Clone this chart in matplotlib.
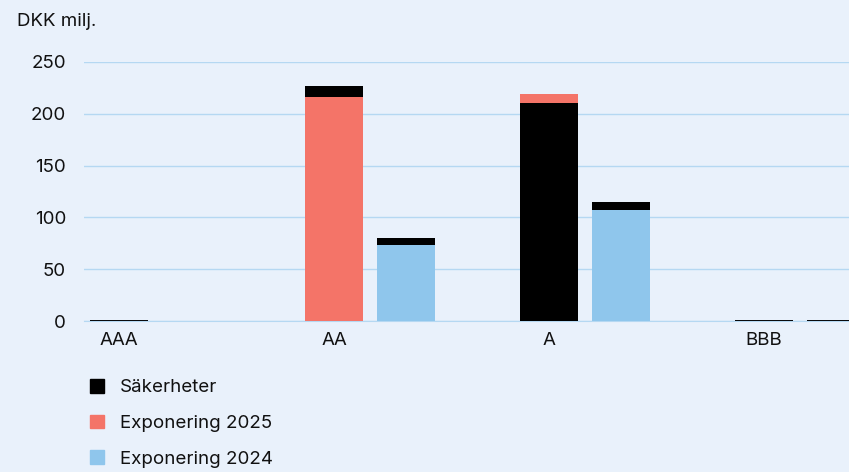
import numpy as np
import matplotlib.pyplot as plt
from matplotlib.patches import Patch

plt.rcParams['font.family'] = ['Inter', 'DejaVu Sans']

# data
ratings = ["AAA", "AA", "A", "BBB"]
exp_2025 = [0.4, 216, 219, 0.4]
sak_2025 = [0.6, 227, 210, 0.6]
exp_2024 = [0.0, 73, 107, 0.4]
sak_2024 = [0.0, 80, 115, 0.8]

bg = "#e9f1fb"
c_sak = "#000000"
c_2025 = "#f47468"
c_2024 = "#8fc6ec"
c_grid = "#b5d8f2"
fs = 13.5

fig = plt.figure(figsize=(8.49, 4.72), dpi=100, facecolor=bg)
ax = fig.add_axes([84 / 849, 1 - 321 / 472, 1 - 84 / 849, 259 / 472])
ax.set_facecolor(bg)

x = np.arange(len(ratings))
w = 0.27
off = 0.335


def draw_pair(pos, exp, sak, col):
    # the larger value goes behind, the smaller in front
    for xi, e, s in zip(pos, exp, sak):
        if e <= 0 and s <= 0:
            continue
        if s >= e:
            ax.bar(xi, s, w, color=c_sak, zorder=2)
            ax.bar(xi, e, w, color=col, zorder=3)
        else:
            ax.bar(xi, e, w, color=col, zorder=2)
            ax.bar(xi, s, w, color=c_sak, zorder=3)


draw_pair(x, exp_2025, sak_2025, c_2025)
draw_pair(x + off, exp_2024, sak_2024, c_2024)

ax.set_ylim(0, 250)
ax.set_xlim(-0.163, 3.395)
ax.set_yticks([0, 50, 100, 150, 200, 250])
ax.set_xticks(x)
ax.set_xticklabels(ratings)
ax.yaxis.grid(True, color=c_grid, linewidth=1, zorder=0)
ax.set_axisbelow(True)
for s in ["top", "right", "left"]:
    ax.spines[s].set_visible(False)
ax.spines["bottom"].set_color(c_grid)
ax.tick_params(length=0, labelsize=fs, colors="#111111")
ax.tick_params(axis="y", pad=13)
ax.tick_params(axis="x", pad=8)

fig.text(17 / 849, 1 - 21 / 472, "DKK milj.", fontsize=fs, va="center", color="#111111")

handles = [Patch(color=c_sak), Patch(color=c_2025), Patch(color=c_2024)]
fig.legend(handles, ["Säkerheter", "Exponering 2025", "Exponering 2024"],
           loc="upper left", bbox_to_anchor=(73 / 849, 1 - 362 / 472),
           frameon=False, fontsize=fs, handlelength=0.75, handleheight=0.75,
           handletextpad=0.85, labelspacing=0.98, labelcolor="#111111")

fig.savefig("out.png", dpi=100, facecolor=bg)
